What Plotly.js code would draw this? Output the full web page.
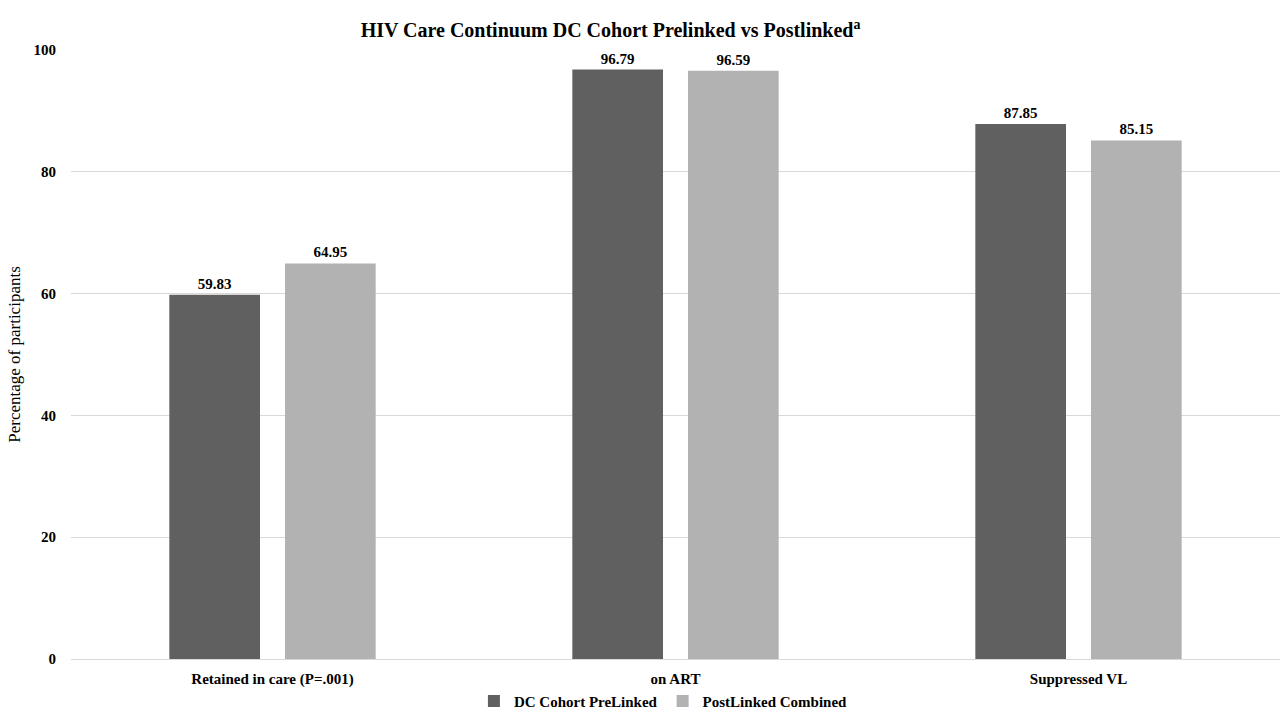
<!DOCTYPE html>
<html>
<head>
<meta charset="utf-8">
<script src="https://cdn.plot.ly/plotly-3.0.1.min.js"></script>
<style>html,body{margin:0;padding:0;background:#fff;}#chart{width:1280px;height:717px;}</style>
</head>
<body>
<div id="chart"></div>
<script>
const categories = ["Retained in care (P=.001)", "on ART", "Suppressed VL"];
const seriesNames = ["DC Cohort PreLinked", "PostLinked Combined"];
const preLinked = [59.83, 96.79, 87.85];
const postLinked = [64.95, 96.59, 85.15];
const yTicks = [0, 20, 40, 60, 80, 100];

const font = "Liberation Serif, Times New Roman, serif";
const labelFont = {family: font, size: 15, color: "#000", weight: "bold"};

const traces = [
  {type: "bar", name: seriesNames[0], x: categories, y: preLinked,
   marker: {color: "#606060"}, text: preLinked.map(v => v.toFixed(2)),
   textposition: "outside", textfont: labelFont, cliponaxis: false},
  {type: "bar", name: seriesNames[1], x: categories, y: postLinked,
   marker: {color: "#b2b2b2"}, text: postLinked.map(v => v.toFixed(2)),
   textposition: "outside", textfont: labelFont, cliponaxis: false}
];

const layout = {
  width: 1280, height: 717,
  margin: {l: 71, r: 0, t: 50, b: 58},
  paper_bgcolor: "#fff", plot_bgcolor: "#fff",
  barmode: "group", bargap: 0.426, bargroupgap: 0.216,
  title: {text: "<b>HIV Care Continuum DC Cohort Prelinked vs Postlinked<sup>a</sup></b>",
          font: {family: font, size: 20, color: "#000"}, x: 0.477, xanchor: "center", y: 0.958, yanchor: "middle"},
  xaxis: {tickfont: {family: font, size: 15, color: "#000", weight: "bold"}, showline: false, ticks: "outside", ticklen: 6, tickcolor: "rgba(0,0,0,0)", showgrid: false, automargin: false},
  yaxis: {range: [0, 100], tickvals: yTicks, ticktext: yTicks.map(String),
          tickfont: {family: font, size: 15, color: "#000", weight: "bold"},
          gridcolor: "#d9d9d9", gridwidth: 1, zeroline: true, zerolinecolor: "#d9d9d9", showline: false, ticks: "",
          ticklabelstandoff: 14, automargin: false,
          title: {text: "Percentage of participants", font: {family: font, size: 17, color: "#000"}, standoff: 8}},
  legend: {orientation: "h", x: 0.49, xanchor: "center", yref: "container", y: 0.022, yanchor: "middle",
           font: {family: font, size: 15, color: "#000", weight: "bold"}, itemwidth: 30, traceorder: "normal"},
  showlegend: true
};

Plotly.newPlot("chart", traces, layout, {displayModeBar: false, staticPlot: true});
</script>
</body>
</html>
